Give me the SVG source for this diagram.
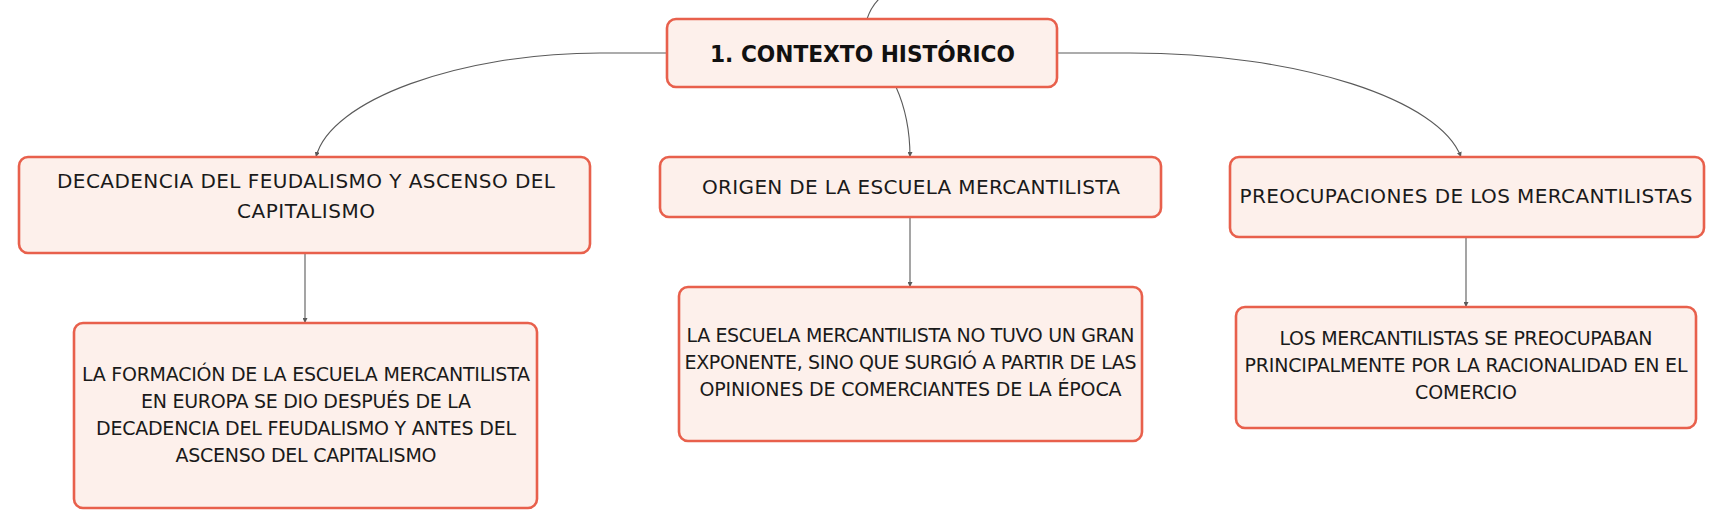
<svg xmlns="http://www.w3.org/2000/svg" width="1727" height="530" viewBox="0 0 1727 530">
<defs>
<style>
.box{fill:#fdf0eb;stroke:#e8604c;stroke-width:2.6}
.t{font-family:"DejaVu Sans","Liberation Sans",sans-serif;font-size:19px;fill:#1a1a1a;text-anchor:middle}
.t2{font-family:"DejaVu Sans","Liberation Sans",sans-serif;font-size:20px;fill:#1a1a1a;text-anchor:middle}
.title{font-family:"DejaVu Sans","Liberation Sans",sans-serif;font-size:23px;font-weight:bold;fill:#111;text-anchor:middle}
.c{fill:none;stroke:#5a5a5a;stroke-width:1.1}
</style>
<marker id="arr" viewBox="0 0 6 6" refX="6" refY="3" markerWidth="5" markerHeight="5" markerUnits="userSpaceOnUse" orient="auto">
<path d="M0,0 L6,3 L0,6 z" fill="#5a5a5a"/>
</marker>
</defs>
<rect width="1727" height="530" fill="#ffffff"/>
<g id="connectors">
<path class="c" d="M867,19 Q871,7 879,-1"/>
<path class="c" d="M667,53 L600,53 C460,53 330,100 316,157" marker-end="url(#arr)"/>
<path class="c" d="M896,87 Q910,118 910,157" marker-end="url(#arr)"/>
<path class="c" d="M1057,53 L1130,53 C1300,53 1440,100 1461,157" marker-end="url(#arr)"/>
<path class="c" d="M305,253 L305,323" marker-end="url(#arr)"/>
<path class="c" d="M910,217 L910,287" marker-end="url(#arr)"/>
<path class="c" d="M1466,237 L1466,307" marker-end="url(#arr)"/>
</g>
<g id="node-contexto">
<rect class="box" x="667" y="19" width="390" height="68" rx="9"/>
<text class="title" x="862.5" y="62" textLength="305" lengthAdjust="spacingAndGlyphs">1. CONTEXTO HISTÓRICO</text>
</g>
<g id="node-decadencia">
<rect class="box" x="19" y="157" width="571" height="96" rx="9"/>
<text class="t2" x="306" y="188" textLength="498">DECADENCIA DEL FEUDALISMO Y ASCENSO DEL</text>
<text class="t2" x="306" y="218" textLength="138">CAPITALISMO</text>
</g>
<g id="node-formacion">
<rect class="box" x="74" y="323" width="463" height="185" rx="9"/>
<text class="t" x="306" y="381" textLength="448">LA FORMACIÓN DE LA ESCUELA MERCANTILISTA</text>
<text class="t" x="306" y="408" textLength="330">EN EUROPA SE DIO DESPUÉS DE LA</text>
<text class="t" x="306" y="435" textLength="420">DECADENCIA DEL FEUDALISMO Y ANTES DEL</text>
<text class="t" x="306" y="462" textLength="261">ASCENSO DEL CAPITALISMO</text>
</g>
<g id="node-origen">
<rect class="box" x="660" y="157" width="501" height="60" rx="9"/>
<text class="t2" x="911" y="194" textLength="418">ORIGEN DE LA ESCUELA MERCANTILISTA</text>
</g>
<g id="node-escuela">
<rect class="box" x="679" y="287" width="463" height="154" rx="9"/>
<text class="t" x="910.5" y="342" textLength="448">LA ESCUELA MERCANTILISTA NO TUVO UN GRAN</text>
<text class="t" x="910.5" y="369" textLength="452">EXPONENTE, SINO QUE SURGIÓ A PARTIR DE LAS</text>
<text class="t" x="910.5" y="396" textLength="422">OPINIONES DE COMERCIANTES DE LA ÉPOCA</text>
</g>
<g id="node-preocupaciones">
<rect class="box" x="1230" y="157" width="474" height="80" rx="9"/>
<text class="t2" x="1466" y="203" textLength="453">PREOCUPACIONES DE LOS MERCANTILISTAS</text>
</g>
<g id="node-racionalidad">
<rect class="box" x="1236" y="307" width="460" height="121" rx="9"/>
<text class="t" x="1466" y="345" textLength="373">LOS MERCANTILISTAS SE PREOCUPABAN</text>
<text class="t" x="1466" y="372" textLength="443">PRINCIPALMENTE POR LA RACIONALIDAD EN EL</text>
<text class="t" x="1466" y="399" textLength="102">COMERCIO</text>
</g>
</svg>
